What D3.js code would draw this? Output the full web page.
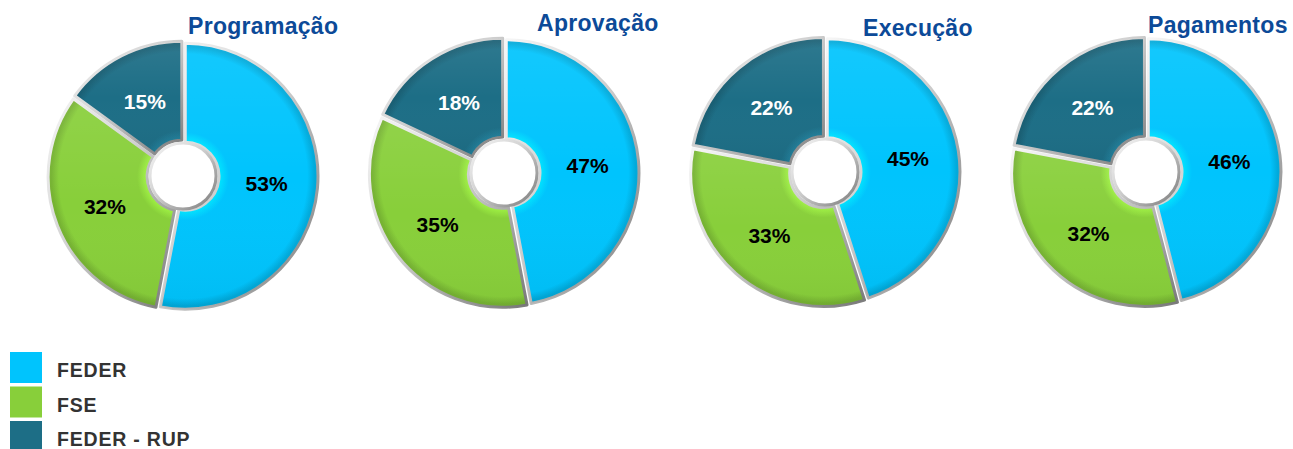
<!DOCTYPE html>
<html lang="pt">
<head>
<meta charset="utf-8" />
<title>Distribuição por fundo</title>
<style>
  body{margin:0;background:#fff;font-family:"Liberation Sans",Arial,sans-serif;}
  svg{display:block}
  .title{font-size:23px;font-weight:700;fill:#0c4a98;letter-spacing:.3px}
  .pct{font-size:21px;font-weight:700;text-anchor:middle;dominant-baseline:central}
  .leg text{font-size:19.5px;font-weight:700;fill:#333;letter-spacing:.8px}
</style>
<script src="https://cdn.jsdelivr.net/npm/d3@7.9.0/dist/d3.min.js"></script>
</head>
<body>
<div id="chart"></div>
<script>
/* ───────── DATA ───────── */
const stages  = ['Programação','Aprovação','Execução','Pagamentos'];
const funds   = ['FEDER','FSE','FEDER - RUP'];
const feder   = [53,47,45,46];
const fse     = [32,35,33,32];
const rup     = [15,18,22,22];

/* ───────── LAYOUT ───────── */
const W = 1293, H = 449;
const R_OUT = 133, R_IN = 34, R_LBL = 84;
const colors = ['#00c4fd','#88cf3a','#1d6e86'];
const lblColor = ['#000','#000','#fff'];
const titleX = [188,537,863,1148], titleY = [34,31,36,33];
const cy = [176,173,172,172];

const svg = d3.select('#chart').append('svg').attr('width',W).attr('height',H);
const defs = svg.append('defs');

/* radial shading per fund colour (bevel look) */
colors.forEach((c,i)=>{
  const base = d3.color(c), lt = base.brighter(0.45), dk = base.darker(0.4);
  const g = defs.append('radialGradient').attr('id','sh'+i)
    .attr('gradientUnits','userSpaceOnUse').attr('cx',0).attr('cy',0).attr('r',R_OUT);
  [[0,lt],[R_IN/R_OUT,lt],[(R_IN+10)/R_OUT,base],[0.92,base],[0.975,dk],[1,dk]]
    .forEach(([o,col])=>g.append('stop').attr('offset',o).attr('stop-color',col));
});
/* silver rim */
const rim = defs.append('linearGradient').attr('id','rim')
  .attr('x1','0%').attr('y1','0%').attr('x2','100%').attr('y2','100%');
rim.append('stop').attr('offset','0%').attr('stop-color','#f6f6f6');
rim.append('stop').attr('offset','45%').attr('stop-color','#d0d0d0');
rim.append('stop').attr('offset','100%').attr('stop-color','#7a7a7a');
/* light overlay from top */
const gloss = defs.append('linearGradient').attr('id','gloss')
  .attr('x1','0%').attr('y1','0%').attr('x2','0%').attr('y2','100%');
gloss.append('stop').attr('offset','0%').attr('stop-color','#fff').attr('stop-opacity',0.08);
gloss.append('stop').attr('offset','50%').attr('stop-color','#fff').attr('stop-opacity',0);
gloss.append('stop').attr('offset','100%').attr('stop-color','#000').attr('stop-opacity',0.04);

const x = d3.scalePoint().domain(stages).range([183,1146]);
const pie = d3.pie().sort(null).value(d=>d);
const arc = d3.arc().innerRadius(R_IN).outerRadius(R_OUT).padAngle(0.004);
const lblArc = d3.arc().innerRadius(R_LBL).outerRadius(R_LBL);
const explode = d=>{
  const a=(d.startAngle+d.endAngle)/2;
  return `translate(${Math.sin(a)*2},${-Math.cos(a)*2})`;
};

stages.forEach((s,k)=>{
  const vals = [feder[k],fse[k],rup[k]];
  const g = svg.append('g').attr('transform',`translate(${x(s)},${cy[k]})`);
  const arcs = pie(vals);

  /* slices, slightly exploded */
  g.selectAll('path.slice').data(arcs).join('path')
    .attr('class','slice')
    .attr('transform',explode)
    .attr('d',arc)
    .attr('fill',(d,i)=>`url(#sh${i})`)
    .attr('stroke','url(#rim)').attr('stroke-width',3).attr('stroke-linejoin','round');

  g.selectAll('path.gl').data(arcs).join('path')
    .attr('class','gl')
    .attr('transform',explode)
    .attr('d',arc).attr('fill','url(#gloss)').attr('pointer-events','none');

  /* hole */
  g.append('circle').attr('r',R_IN-1).attr('fill','#fff')
    .attr('stroke','url(#rim)').attr('stroke-width',3);

  g.selectAll('text.pct').data(arcs).join('text')
    .attr('class','pct')
    .attr('transform',d=>`translate(${lblArc.centroid(d)})`)
    .attr('fill',(d,i)=>lblColor[i])
    .text(d=>d.data+'%');

  svg.append('text').attr('class','title')
    .attr('x',titleX[k]).attr('y',titleY[k]).text(s);
});

/* legend */
const leg = svg.append('g').attr('class','leg');
const ly = d3.scaleLinear().domain([0,1]).range([352,386.5]);
funds.forEach((f,i)=>{
  leg.append('rect').attr('x',10).attr('y',ly(i)).attr('width',32).attr('height',31)
    .attr('fill',colors[i]);
  leg.append('text').attr('x',57).attr('y',ly(i)+25).text(f);
});
</script>
</body>
</html>
